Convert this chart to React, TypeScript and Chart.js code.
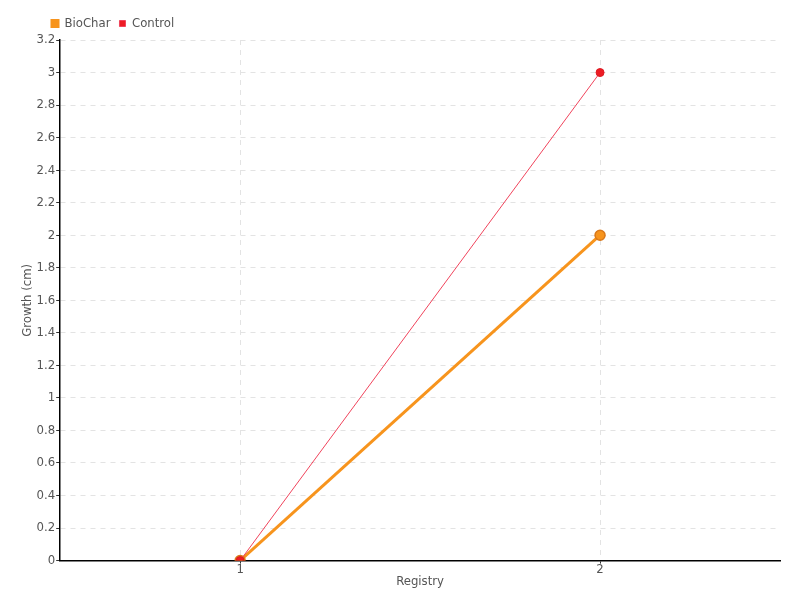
import React, { useEffect, useRef } from "react";
import { Chart, registerables } from "chart.js";

Chart.register(...registerables);

const categories = ["1", "2"];
const bioCharValues = [0, 2];
const controlValues = [0, 3];
const seriesNames = ["BioChar", "Control"];
const yTitle = "Growth (cm)";
const xTitle = "Registry";

const FONT = "'DejaVu Sans Condensed', 'Liberation Sans Narrow', sans-serif";
const TEXT = "#555555";

const shiftLegend = {
  id: "shiftLegend",
  afterLayout(chart: any) {
    if (chart.legend) {
      chart.legend.left += 23;
      chart.legend.right += 23;
    }
  },
};

export default function App() {
  const ref = useRef<HTMLCanvasElement | null>(null);
  useEffect(() => {
    if (!ref.current) return;
    const chart = new Chart(ref.current, {
      type: "line",
      data: {
        labels: categories,
        datasets: [
          {
            label: seriesNames[0],
            data: bioCharValues,
            borderColor: "#f7941d",
            backgroundColor: "#f7941d",
            borderWidth: 3,
            pointRadius: 5,
            pointBorderWidth: 1.5,
            pointBorderColor: "#d9781a",
            pointBackgroundColor: "#f7941d",
            order: 1,
          },
          {
            label: seriesNames[1],
            data: controlValues,
            borderColor: "#f0445c",
            backgroundColor: "#ed1c24",
            borderWidth: 1,
            pointRadius: 4,
            pointBorderWidth: 1,
            pointBorderColor: "#dd1a22",
            pointBackgroundColor: "#ed1c24",
            order: 0,
          },
        ],
      },
      plugins: [shiftLegend],
      options: {
        animation: false,
        responsive: true,
        maintainAspectRatio: false,
        layout: { padding: { left: 20, right: 20, top: 8, bottom: 13 } },
        plugins: {
          tooltip: { enabled: false },
          legend: {
            position: "top",
            align: "start",
            labels: {
              boxWidth: 6,
              boxHeight: 6,
              padding: 9,
              color: TEXT,
              font: { family: FONT, size: 13 },
              sort: (a: any, b: any) => a.datasetIndex - b.datasetIndex,
            },
          },
        },
        scales: {
          x: {
            offset: true,
            grid: {
              color: "#e3e3e3",
              drawTicks: true,
              tickLength: 3,
              tickColor: "#333",
              tickBorderDash: [],
              offset: false,
            },
            border: { display: true, color: "#000", width: 1.5, dash: [5, 5] },
            ticks: { color: TEXT, font: { family: FONT, size: 13, lineHeight: 1 }, padding: 0 },
            title: {
              display: true,
              text: xTitle,
              color: TEXT,
              font: { family: FONT, size: 13, lineHeight: 0.8 },
              padding: { top: 0, bottom: 0 },
            },
          },
          y: {
            min: 0,
            max: 3.2,
            grid: {
              color: "#e3e3e3",
              tickLength: 4,
              tickColor: "#333",
              tickBorderDash: [],
            },
            border: { display: true, color: "#000", width: 1.5, dash: [5, 5] },
            ticks: {
              stepSize: 0.2,
              color: TEXT,
              font: { family: FONT, size: 13 },
              padding: 1,
              callback: (v: any) => String(Math.round(Number(v) * 10) / 10),
            },
            title: {
              display: true,
              text: yTitle,
              color: TEXT,
              font: { family: FONT, size: 13 },
              padding: { top: 0, bottom: 0 },
            },
          },
        },
      },
    });
    return () => chart.destroy();
  }, []);
  return (
    <div style={{ position: "fixed", left: 0, top: 0, width: 800, height: 600 }}>
      <canvas ref={ref} />
    </div>
  );
}
